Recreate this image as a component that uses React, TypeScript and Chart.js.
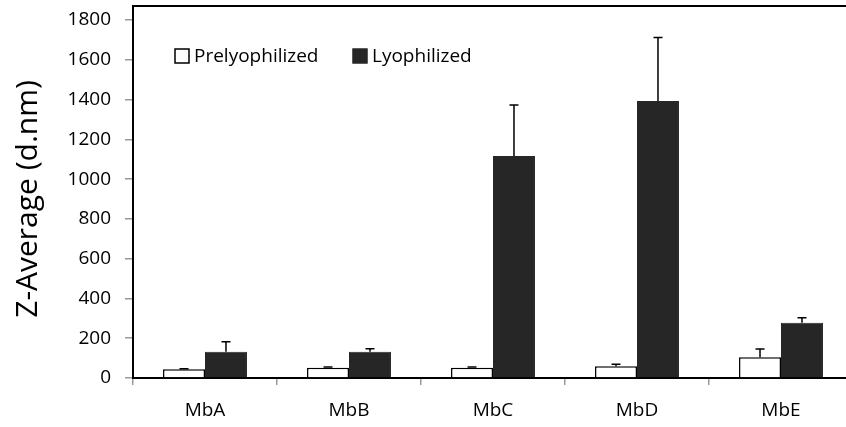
import React, { useEffect, useRef } from "react";
import { Chart, registerables } from "chart.js";

Chart.register(...registerables);

const categories = ["MbA", "MbB", "MbC", "MbD", "MbE"];
const prelyoValues = [44, 52, 52, 59, 104];
const prelyoErrors = [2, 3, 3, 10, 42];
const lyoValues = [132, 132, 1116, 1393, 278];
const lyoErrors = [50, 15, 256, 319, 25];
const seriesNames = ["Prelyophilized", "Lyophilized"];
const yTicks = [0, 200, 400, 600, 800, 1000, 1200, 1400, 1600, 1800];

const FONT = "'Open Sans', 'DejaVu Sans', sans-serif";
const DARK = "#262626";

// Upper error bars drawn from each dataset's `errors` array
const errorBarPlugin = {
  id: "errorBars",
  afterDatasetsDraw(chart: any) {
    const { ctx } = chart;
    const y = chart.scales.y;
    chart.data.datasets.forEach((ds: any, di: number) => {
      const meta = chart.getDatasetMeta(di);
      meta.data.forEach((bar: any, i: number) => {
        const v = ds.data[i];
        const e = ds.errors[i];
        const x = bar.x;
        const y0 = y.getPixelForValue(v);
        const y1 = y.getPixelForValue(v + e);
        ctx.save();
        ctx.strokeStyle = "#000";
        ctx.lineWidth = 1.5;
        ctx.beginPath();
        ctx.moveTo(x, y0);
        ctx.lineTo(x, y1);
        ctx.moveTo(x - 4.5, y1);
        ctx.lineTo(x + 4.5, y1);
        ctx.stroke();
        ctx.restore();
      });
    });
  },
};

// Plot frame: left axis extended to the top border line
const framePlugin = {
  id: "frame",
  afterDraw(chart: any) {
    const { ctx, chartArea } = chart;
    const top = chartArea.top - 14;
    ctx.save();
    ctx.strokeStyle = "#000";
    ctx.lineWidth = 2;
    ctx.beginPath();
    ctx.moveTo(chartArea.left, chartArea.bottom);
    ctx.lineTo(chartArea.left, top);
    ctx.lineTo(chart.width, top);
    ctx.stroke();
    ctx.restore();
  },
};

// Legend inside the plot, top-left
const insideLegendPlugin = {
  id: "insideLegend",
  afterDraw(chart: any) {
    const { ctx, chartArea } = chart;
    const items = [
      { x: chartArea.left + 42, label: seriesNames[0], fill: "#fff" },
      { x: chartArea.left + 220, label: seriesNames[1], fill: DARK },
    ];
    const top = chartArea.top + 29;
    ctx.save();
    items.forEach((it) => {
      ctx.fillStyle = it.fill;
      ctx.fillRect(it.x, top, 14, 14);
      ctx.strokeStyle = it.fill === "#fff" ? "#000" : DARK;
      ctx.lineWidth = 1.5;
      ctx.strokeRect(it.x, top, 14, 14);
      ctx.fillStyle = "#000";
      ctx.font = `19px ${FONT}`;
      ctx.textBaseline = "middle";
      ctx.textAlign = "left";
      ctx.fillText(it.label, it.x + 19, top + 8);
    });
    ctx.restore();
  },
};

export default function App() {
  const ref = useRef<HTMLCanvasElement>(null);

  useEffect(() => {
    document.body.style.margin = "0";
    const chart = new Chart(ref.current!, {
      type: "bar",
      data: {
        labels: categories,
        datasets: [
          {
            label: seriesNames[0],
            data: prelyoValues,
            errors: prelyoErrors,
            backgroundColor: "#ffffff",
            borderColor: "#000000",
            borderWidth: 1.5,
          } as any,
          {
            label: seriesNames[1],
            data: lyoValues,
            errors: lyoErrors,
            backgroundColor: DARK,
            borderColor: DARK,
            borderWidth: 1,
          } as any,
        ],
      },
      options: {
        responsive: false,
        animation: false,
        devicePixelRatio: 1,
        layout: { padding: { top: 20, right: 1, left: 0, bottom: 0 } },
        datasets: { bar: { categoryPercentage: 0.583, barPercentage: 1 } },
        plugins: {
          legend: { display: false },
          tooltip: { enabled: false },
        },
        scales: {
          x: {
            border: { display: true, color: "#000", width: 2 },
            grid: {
              offset: true,
              drawOnChartArea: false,
              drawTicks: true,
              tickLength: 7,
              color: "#999",
              lineWidth: 1.5,
            },
            ticks: {
              color: "#000",
              font: { family: FONT, size: 19 },
              padding: 14,
              maxRotation: 0,
            },
            afterFit(scale: any) {
              scale.height = 49;
              scale.paddingLeft = 0;
              scale.paddingRight = 0;
            },
          },
          y: {
            min: 0,
            max: 1800,
            afterBuildTicks(scale: any) {
              scale.ticks = yTicks.map((v) => ({ value: v }));
            },
            border: { display: true, color: "#000", width: 2 },
            grid: {
              drawOnChartArea: false,
              drawTicks: true,
              tickLength: 8,
              color: "#999",
              lineWidth: 1.5,
            },
            ticks: {
              color: "#000",
              font: { family: FONT, size: 19 },
              padding: 14,
              callback: (v: any) => String(v),
            },
            title: {
              display: true,
              text: "Z-Average (d.nm)",
              color: "#000",
              font: { family: FONT, size: 30 },
              padding: { top: 10, bottom: 0 },
            },
            afterFit(scale: any) {
              scale.width = 133;
              scale.paddingTop = 0;
              scale.paddingBottom = 0;
            },
          },
        },
      } as any,
      plugins: [errorBarPlugin, framePlugin, insideLegendPlugin],
    });
    return () => chart.destroy();
  }, []);

  return (
    <div style={{ width: 846, height: 427, overflow: "hidden" }}>
      <canvas ref={ref} width={854} height={427} />
    </div>
  );
}
